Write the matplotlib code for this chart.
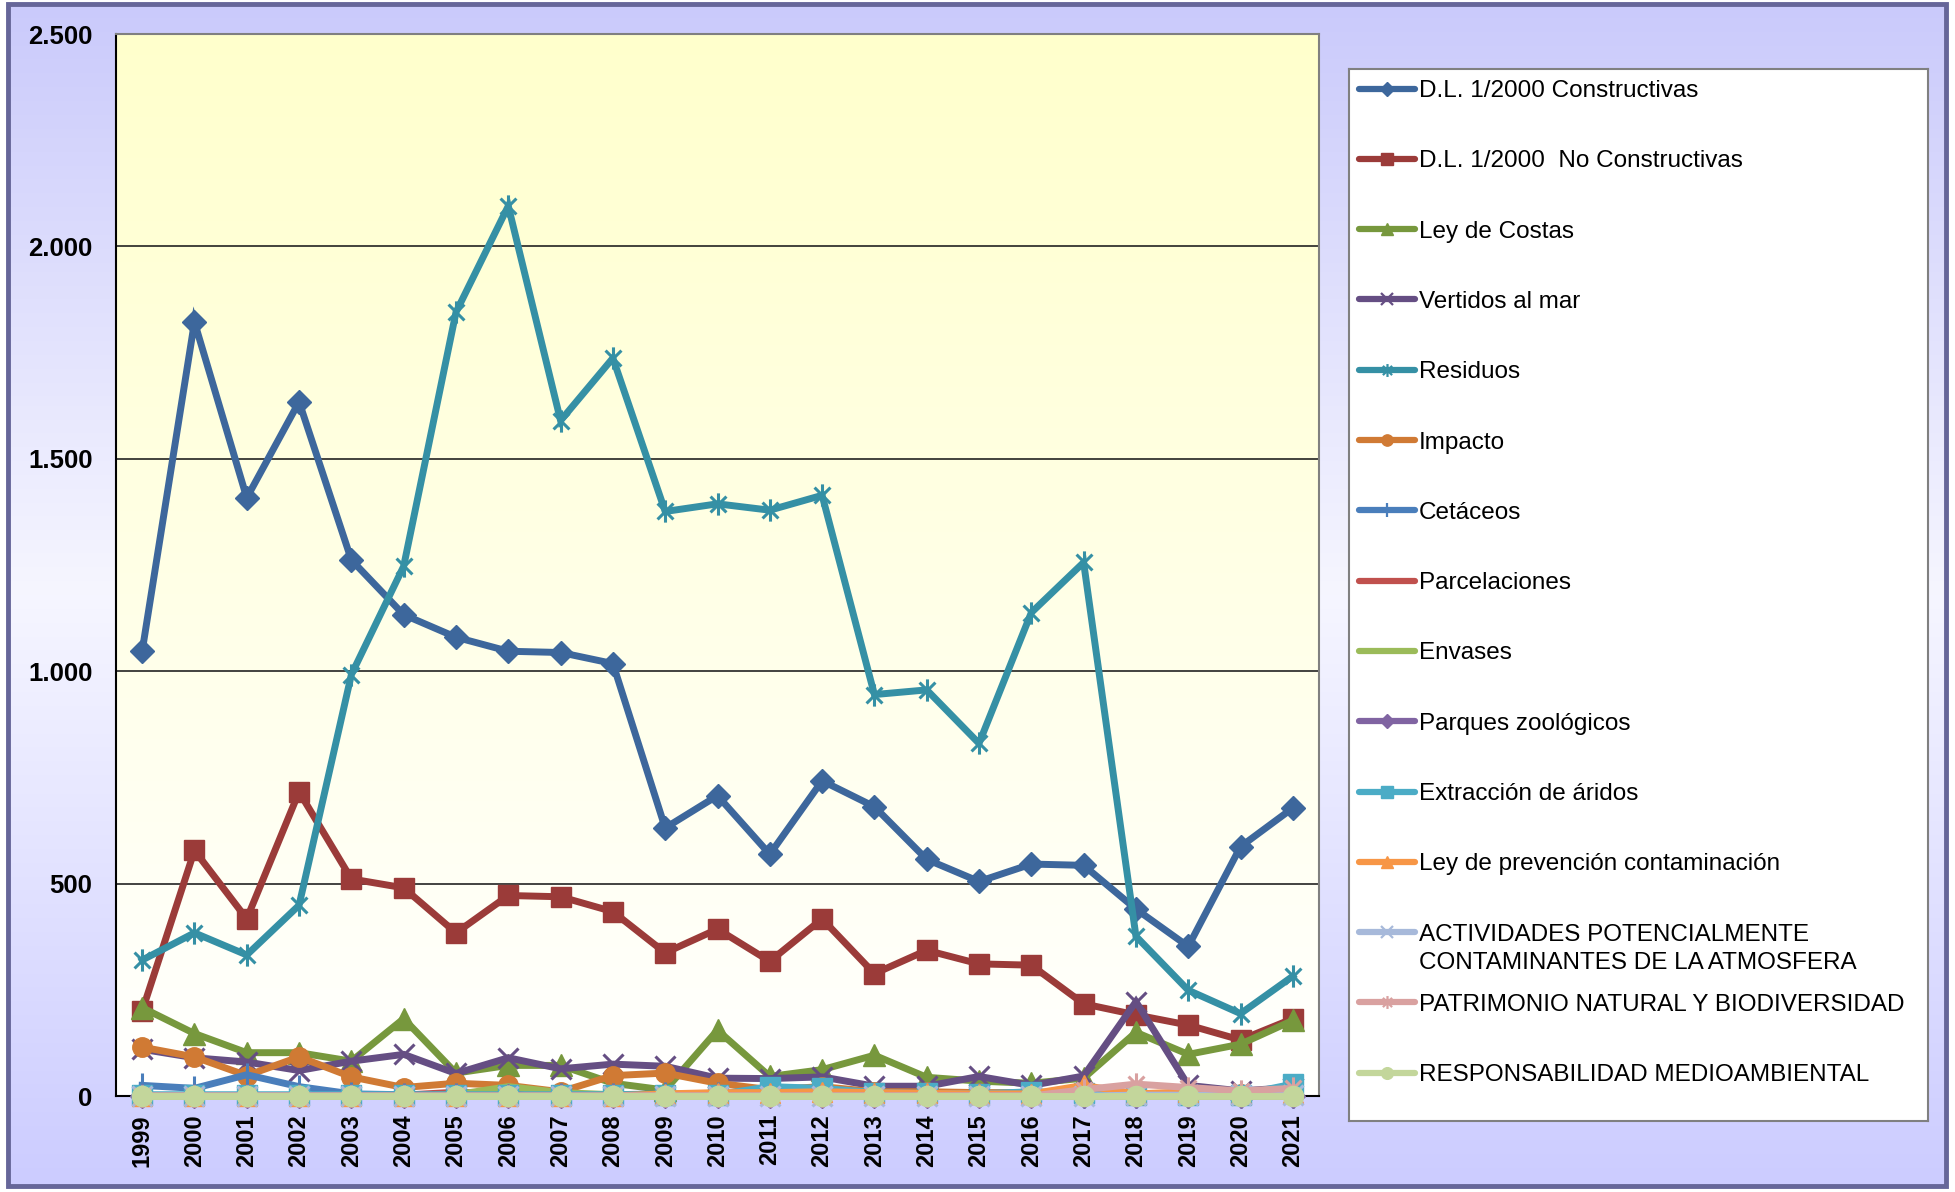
import numpy as np
import matplotlib
matplotlib.use("Agg")
import matplotlib.pyplot as plt
from matplotlib.path import Path
from matplotlib.patches import Rectangle
from matplotlib.colors import LinearSegmentedColormap
from matplotlib.ticker import FuncFormatter

plt.rcParams['font.family'] = ['Liberation Sans', 'DejaVu Sans']

years = [str(y) for y in range(1999, 2022)]

dl_constructivas = [1047, 1822, 1408, 1634, 1262, 1133, 1080, 1047, 1044, 1018, 631, 707,
                    569, 742, 681, 557, 505, 546, 543, 440, 352, 587, 678]
dl_no_constructivas = [200, 578, 417, 716, 511, 490, 384, 472, 469, 434, 337, 393,
                       317, 417, 288, 343, 311, 308, 217, 191, 167, 132, 182]
ley_costas = [208, 147, 102, 102, 82, 182, 54, 72, 72, 30, 14, 155,
              46, 62, 96, 44, 35, 30, 42, 150, 98, 122, 178]
vertidos = [110, 90, 80, 60, 82, 98, 53, 90, 64, 75, 70, 42,
            41, 45, 23, 23, 46, 25, 47, 222, 25, 12, 20]
residuos = [320, 384, 332, 449, 992, 1247, 1845, 2095, 1590, 1737, 1376, 1394,
            1379, 1414, 945, 956, 830, 1138, 1256, 376, 249, 194, 282]
impacto = [115, 92, 48, 92, 45, 20, 30, 25, 10, 48, 54, 30,
           15, 22, 10, 10, 8, 8, 10, 5, 5, 5, 5]
cetaceos = [25, 18, 50, 22, 5, 3, 2, 3, 2, 3, 5, 4,
            3, 2, 2, 2, 2, 2, 0, 0, 0, 0, 0]
parcelaciones = [0, 0, 0, 0, 0, 2, 9, 5, 2, 1, 1, 1,
                 1, 1, 0, 0, 0, 0, 0, 0, 0, 0, 0]
envases = [0, 0, 0, 0, 0, 0, 3, 22, 8, 3, 1, 1,
           1, 1, 0, 0, 0, 0, 0, 0, 0, 0, 0]
zoologicos = [0, 0, 0, 0, 0, 0, 0, 0, 0, 0, 0, 0,
              0, 0, 0, 0, 0, 0, 0, 0, 0, 0, 0]
aridos = [3, 3, 3, 3, 3, 3, 3, 3, 3, 3, 3, 3,
          22, 18, 8, 6, 5, 10, 6, 3, 2, 3, 28]
prevencion = [0, 0, 0, 0, 0, 0, 0, 0, 0, 0, 5, 8,
              8, 10, 8, 6, 5, 5, 25, 5, 10, 5, 8]
actividades = [0, 0, 0, 0, 0, 0, 0, 0, 0, 0, 0, 0,
               0, 0, 0, 0, 0, 0, 0, 2, 2, 2, 2]
patrimonio = [0, 0, 0, 0, 0, 0, 0, 0, 0, 0, 0, 0,
              0, 0, 0, 0, 0, 0, 15, 28, 20, 12, 18]
responsabilidad = [0, 0, 0, 0, 0, 0, 0, 0, 0, 0, 0, 0,
                   0, 0, 0, 0, 0, 0, 0, 0, 0, 0, 0]

# asterisk like the excel marker: an x plus a vertical bar
star = Path([(-1, -1), (1, 1), (-1, 1), (1, -1), (0, -1.4), (0, 1.4)],
            [Path.MOVETO, Path.LINETO] * 3)

# label, values, color, marker, size, filled
series = [
    ("D.L. 1/2000 Constructivas", dl_constructivas, "#3D679C", "D", 12, True),
    ("D.L. 1/2000  No Constructivas", dl_no_constructivas, "#9B3B39", "s", 14, True),
    ("Ley de Costas", ley_costas, "#77983D", "^", 16, True),
    ("Vertidos al mar", vertidos, "#654E83", "x", 14, False),
    ("Residuos", residuos, "#3590A5", star, 16, False),
    ("Impacto", impacto, "#D07A34", "o", 14, True),
    ("Cetáceos", cetaceos, "#4A7EBB", "|", 17, False),
    ("Parcelaciones", parcelaciones, "#C0504D", None, 0, True),
    ("Envases", envases, "#9BBB59", None, 0, True),
    ("Parques zoológicos", zoologicos, "#8064A2", "D", 12, True),
    ("Extracción de áridos", aridos, "#4BACC6", "s", 14, True),
    ("Ley de prevención contaminación", prevencion, "#F79646", "^", 15, True),
    ("ACTIVIDADES POTENCIALMENTE\nCONTAMINANTES DE LA ATMOSFERA", actividades, "#A7B9DA", "x", 14, False),
    ("PATRIMONIO NATURAL Y BIODIVERSIDAD", patrimonio, "#D9A1A0", star, 16, False),
    ("RESPONSABILIDAD MEDIOAMBIENTAL", responsabilidad, "#C3D69B", "o", 14.5, True),
]

W, H = 1955, 1192
fig = plt.figure(figsize=(W / 100, H / 100), dpi=100)
fig.patch.set_facecolor("white")

# background with lavender gradient and dark frame
bg = fig.add_axes([0, 0, 1, 1], zorder=-10)
bg.axis("off")
bg_cmap = LinearSegmentedColormap.from_list("bg", ["#CACAFB", "#F6F6FF", "#CCCCFF"])
grad = np.linspace(0, 1, 256).reshape(-1, 1)
bg.imshow(grad, extent=[8, 1946, 1186, 4], cmap=bg_cmap, aspect="auto")
bg.add_patch(Rectangle((8, 4), 1938, 1182, fill=False, edgecolor="#666699", lw=3.5))
bg.set_xlim(0, W)
bg.set_ylim(H, 0)

ax = fig.add_axes([116 / W, 1 - 1096 / H, 1203 / W, 1062 / H])
x = np.arange(len(years))
plot_cmap = LinearSegmentedColormap.from_list("plot", ["#FFFFFF", "#FFFFCC"])
ax.imshow(grad, extent=[-0.5, len(years) - 0.5, 0, 2500], cmap=plot_cmap,
          origin="lower", aspect="auto", zorder=0)

for i, (label, vals, col, mk, ms, filled) in enumerate(series):
    kw = dict(color=col, lw=5, solid_joinstyle="miter", zorder=3 + i, clip_on=False)
    if mk is not None:
        kw.update(marker=mk, markersize=ms, markeredgecolor=col,
                  markerfacecolor=col if filled else "none",
                  markeredgewidth=1 if filled else 2.2)
    ax.plot(x, vals, **kw)

ax.set_xlim(-0.5, len(years) - 0.5)
ax.set_ylim(0, 2500)
ax.set_yticks(np.arange(0, 2501, 500))
ax.yaxis.set_major_formatter(FuncFormatter(lambda v, p: f"{int(v):,}".replace(",", ".")))
ax.set_xticks(x)
ax.set_xticklabels(years, rotation=90, fontsize=17, fontweight="bold")
for t in ax.get_yticklabels():
    t.set_fontsize(18.5)
    t.set_fontweight("bold")
ax.tick_params(axis="y", length=0, pad=17)
ax.tick_params(axis="x", length=0, pad=13)
ax.grid(axis="y", color="#222222", lw=1.2, zorder=1)
ax.set_axisbelow(True)
for s in ["left", "bottom"]:
    ax.spines[s].set_color("black")
    ax.spines[s].set_linewidth(1.5)
for s in ["top", "right"]:
    ax.spines[s].set_color("#808080")
    ax.spines[s].set_linewidth(1.5)

# legend box drawn as its own axes
lx0, ly0, lx1, ly1 = 1349, 69, 1928, 1121
lax = fig.add_axes([lx0 / W, 1 - ly1 / H, (lx1 - lx0) / W, (ly1 - ly0) / H])
lax.set_xlim(0, lx1 - lx0)
lax.set_ylim(ly1 - ly0, 0)
lax.set_xticks([])
lax.set_yticks([])
lax.set_facecolor("white")
for s in lax.spines.values():
    s.set_color("#808080")
    s.set_linewidth(1.5)

step = 70.3
for i, (label, vals, col, mk, ms, filled) in enumerate(series):
    yy = 19.5 + i * step
    lax.plot([10, 66], [yy, yy], color=col, lw=4.5, solid_capstyle="round")
    if mk is not None:
        lax.plot([38], [yy], marker=mk, markersize=ms * 0.58, color=col,
                 markerfacecolor=col if filled else "none",
                 markeredgewidth=1 if filled else 1.6)
    for j, line in enumerate(label.split("\n")):
        lax.text(70, yy + j * 28.7, line, fontsize=17.5, va="center_baseline", ha="left")

fig.savefig("out.png", dpi=100)
